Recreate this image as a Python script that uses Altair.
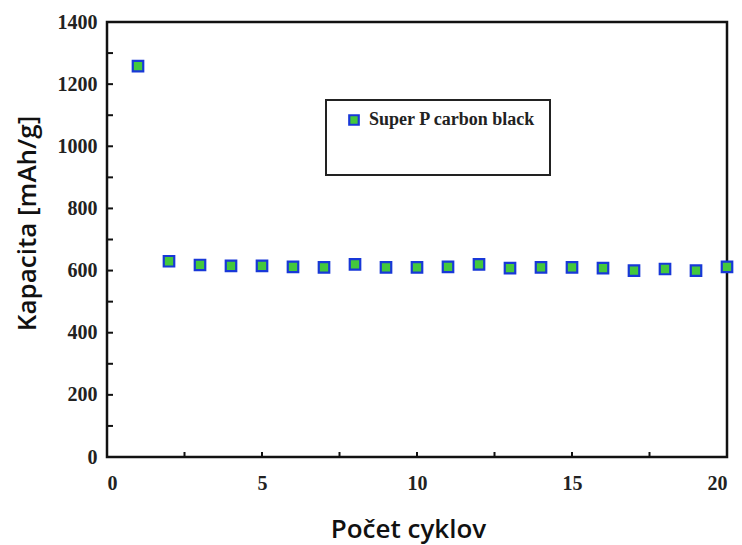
import altair as alt
import pandas as pd

cycles = list(range(1, 21))
capacity = [1258, 630, 618, 615, 615, 612, 610, 620, 610, 610,
            612, 620, 608, 610, 610, 608, 600, 605, 600, 612]
series_name = "Super P carbon black"
y_minor_ticks = list(range(0, 1401, 100))
x_minor_ticks = [2.5, 5, 7.5, 10, 12.5, 15, 17.5]
y_labels = list(range(0, 1401, 200))
x_labels = [0, 5, 10, 15, 20]

W, H = 620, 435

df = pd.DataFrame({"cycle": cycles, "cap": capacity, "series": [series_name] * len(cycles)})

xscale = alt.Scale(domain=[0, 20], nice=False, zero=False)
yscale = alt.Scale(domain=[0, 1400], nice=False)

points = alt.Chart(df).mark_point(
    shape="square", filled=True, size=110, opacity=1,
    stroke="#1838d8", strokeWidth=2.2
).encode(
    x=alt.X("cycle:Q", scale=xscale, axis=alt.Axis(
        values=x_labels, format="d", title="Počet cyklov", tickSize=0, domain=False,
        labelFont="Liberation Serif", labelFontWeight="bold", labelFontSize=20,
        labelColor="#222", labelPadding=16,
        titleFont="Open Sans", titleFontSize=26, titleFontWeight=600,
        titleColor="#111", titleX=301, titleY=80, titleBaseline="alphabetic",
        titleAlign="center", grid=False)),
    y=alt.Y("cap:Q", scale=yscale, axis=alt.Axis(
        values=y_labels, format="d", title="Kapacita [mAh/g]", tickSize=0, domain=False,
        labelFont="Liberation Serif", labelFontWeight="bold", labelFontSize=20,
        labelColor="#222", labelPadding=10,
        titleFont="Open Sans", titleFontSize=26, titleFontWeight=600,
        titleColor="#111", titleX=-72, titleY=201, titleAngle=270,
        titleBaseline="alphabetic", titleAlign="center", grid=False)),
    fill=alt.Fill("series:N", scale=alt.Scale(range=["#44c83c"]), legend=alt.Legend(
        title=None, orient="none", legendX=238, legendY=89,
        labelFont="Liberation Serif", labelFontWeight="bold", labelFontSize=18,
        labelColor="#222", labelLimit=400, symbolSize=90, symbolStrokeColor="#1838d8",
        symbolStrokeWidth=2.2, symbolType="square", labelOffset=6)),
)

ytk = alt.Chart(pd.DataFrame({"v": y_minor_ticks})).mark_rule(color="#111", strokeWidth=2).encode(
    y=alt.Y("v:Q", scale=yscale), x=alt.value(0), x2=alt.value(6))

xtk = alt.Chart(pd.DataFrame({"v": x_minor_ticks})).mark_rule(color="#111", strokeWidth=2).encode(
    x=alt.X("v:Q", scale=xscale), y=alt.value(H), y2=alt.value(H - 5))

box = alt.Chart(pd.DataFrame({"a": [0]})).mark_rect(
    fill="white", fillOpacity=0, stroke="#222", strokeWidth=2
).encode(x=alt.value(219), x2=alt.value(443), y=alt.value(78), y2=alt.value(153))

chart = alt.layer(box, ytk, xtk, points).properties(
    width=W, height=H,
    autosize=alt.AutoSizeParams(type="none"),
    padding={"left": 99, "top": 14, "right": 7, "bottom": 92},
    background="white",
).configure_view(stroke="#111", strokeWidth=2.5)

chart.save("out.html", embed_options={"renderer": "svg", "actions": False})
